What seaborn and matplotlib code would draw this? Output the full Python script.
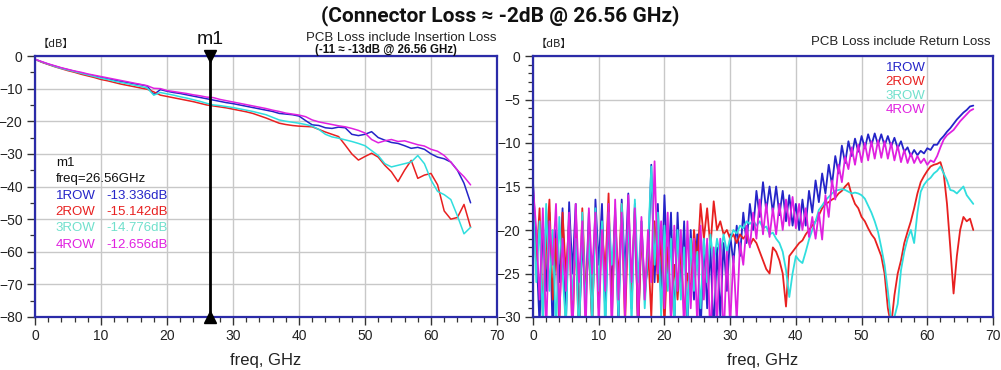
import numpy as np
import pandas as pd
import matplotlib
matplotlib.use("Agg")
import matplotlib.pyplot as plt
import seaborn as sns
from matplotlib.ticker import MultipleLocator

# ---------------- data ----------------
series_names = ["1ROW", "2ROW", "3ROW", "4ROW"]
series_colors = ["#2424c8", "#e82020", "#30dede", "#e020e0"]
label_colors = ["#2424c8", "#e82020", "#70e0cc", "#e020e0"]

# Insertion loss (left)
il_freq = list(range(0, 67))
il_1row = [-1.0, -1.8, -2.5, -3.1, -3.7, -4.2, -4.7, -5.2, -5.7, -6.1, -6.6, -7.0, -7.4, -7.8, -8.1, -8.5,
           -8.8, -9.2, -11.8, -10.3, -10.8, -11.2, -11.5, -11.9, -12.3, -12.7, -13.1, -13.5, -13.9, -14.3,
           -14.6, -15.0, -15.4, -15.8, -16.2, -16.6, -17.0, -17.6, -17.8, -18.0, -18.4, -19.8, -21.1, -21.3,
           -22.0, -22.2, -21.8, -22.0, -24.0, -24.4, -24.0, -23.2, -25.0, -25.8, -26.5, -26.8, -27.5, -28.3,
           -28.0, -28.6, -30.0, -31.0, -31.5, -32.5, -35.0, -39.0, -45.0]
il_2row = [-1.0, -1.9, -2.6, -3.3, -3.9, -4.5, -5.0, -5.6, -6.1, -6.6, -7.2, -7.6, -8.1, -8.6, -9.0, -9.4,
           -9.8, -10.2, -11.0, -12.0, -12.4, -12.8, -13.2, -13.6, -14.0, -14.5, -15.0, -15.3, -15.6, -15.9,
           -16.3, -16.7, -17.1, -17.6, -18.3, -19.0, -19.8, -20.6, -21.0, -21.3, -21.5, -21.6, -21.7, -22.5,
           -23.3, -24.0, -24.7, -27.3, -30.0, -31.9, -30.8, -29.8, -31.0, -33.5, -35.5, -38.5, -35.0, -32.0,
           -37.5, -36.5, -36.0, -39.5, -47.5, -50.0, -49.5, -45.5, -52.5]
il_3row = [-1.0, -1.8, -2.5, -3.2, -3.8, -4.3, -4.8, -5.3, -5.8, -6.3, -6.8, -7.2, -7.7, -8.1, -8.5, -8.9,
           -9.3, -9.8, -12.0, -11.2, -11.6, -12.0, -12.5, -12.9, -13.4, -13.9, -14.5, -15.0, -15.2, -15.5,
           -15.8, -16.2, -16.6, -17.0, -17.5, -18.0, -18.8, -19.6, -20.0, -20.3, -20.6, -21.0, -21.5, -22.5,
           -24.0, -24.8, -25.2, -25.7, -26.2, -26.8, -27.5, -29.0, -30.5, -33.0, -34.0, -33.5, -33.0, -32.5,
           -30.5, -33.0, -38.0, -41.5, -42.5, -44.0, -49.0, -54.5, -52.5]
il_4row = [-1.0, -1.7, -2.4, -3.0, -3.6, -4.1, -4.6, -5.0, -5.5, -5.9, -6.3, -6.7, -7.1, -7.5, -7.9, -8.3,
           -8.7, -9.1, -9.9, -10.0, -10.6, -10.9, -11.2, -11.5, -11.9, -12.2, -12.6, -12.75, -13.3, -13.7,
           -14.1, -14.5, -14.9, -15.3, -15.7, -16.1, -16.6, -17.0, -17.5, -17.8, -18.1, -18.6, -19.6, -20.2,
           -20.6, -21.0, -21.4, -21.7, -22.2, -22.8, -23.6, -25.6, -26.6, -26.0, -25.6, -26.2, -26.0, -26.6,
           -27.2, -27.6, -28.6, -29.2, -30.5, -32.5, -35.0, -37.0, -39.5]

marker_freq = 26.56
marker_vals = ["-13.336dB", "-15.142dB", "-14.776dB", "-12.656dB"]

# Return loss (right), 0.5 GHz steps
rl_freq = [i * 0.5 for i in range(135)]
rl_1row = [-14.5, -22, -31, -19, -27, -18, -32, -20, -26, -17.5, -31, -16.8, -25, -17, -32, -21, -28, -18,
           -31, -16.5, -24, -17, -30, -19, -27, -17.5, -31, -16.5, -25, -15.8, -29, -17, -32, -19, -27, -24,
           -12.5, -26, -17, -28, -16, -25, -18, -31, -18, -27, -19, -31, -20, -28, -20.5, -32, -21, -29, -22,
           -32, -22, -30, -21.5, -27, -20.5,
           -23.8, -19.5, -23, -18, -21.5, -17, -20, -15.5, -18.5, -14.5, -17.8, -15, -18, -15, -18.3, -15.5,
           -19, -16, -19.5, -17, -20, -16.5, -19.5, -15.5, -18, -14.3, -16.8, -13.5, -15.8, -12.5, -14.8,
           -11.5, -13.5, -10.3, -12.3, -9.8, -11.5, -9.5, -11, -9.2, -10.6, -9, -10.3, -8.9, -10.2, -9, -10.3,
           -9.2, -10.4, -9.4, -10.6, -9.8, -11, -10.5, -11.5, -10.8, -11.4, -10.9, -11.2, -10.6, -10.8, -10.2,
           -10.2, -9.6, -9.2, -8.7, -8.3, -7.8, -7.3, -6.9, -6.5, -6.2, -5.8, -5.7]
rl_2row = [-18, -24, -17.5, -30, -22, -16.5, -28, -21, -31, -18, -25, -19, -32, -20, -33, -17.5, -27, -22,
           -31, -18, -29, -20, -25, -15.8, -30, -18.5, -26, -17, -31, -19, -27, -17.5, -32, -20, -28, -22,
           -30, -19, -26, -21, -31, -22, -30, -24, -28, -22, -30, -25, -27, -20, -24, -17, -21, -17.5, -22,
           -16.7, -20, -19, -20.5, -20, -21,
           -20.5, -21.5, -20.5, -21, -20.5, -21.8, -21, -21.5, -22.5, -23.5, -24.5, -25, -22, -22.5, -23.5,
           -25, -28.8, -23, -22.5, -22, -21.5, -21.2, -20.5, -20, -19.5, -19, -18.3, -17.5, -17, -16.8,
           -16.5, -16.3, -15.8, -15.5, -15, -14.6, -16, -17, -17.5, -18.5, -19, -19.8, -20.5, -21, -22, -23,
           -25, -29, -31, -27.5, -25, -23.5, -21.5, -20.2, -19, -17.5, -15.8, -14.5, -13.8, -13.2, -12.7,
           -12.5, -12.4, -12.2, -13.5, -17, -22, -27.3, -23, -20, -18.5, -19, -18.7, -20]
rl_3row = [-16, -26, -19, -31, -17, -27, -20, -32, -18.5, -25, -31, -19, -28, -21, -33, -18, -29, -20.5,
           -31, -17.5, -27, -19, -32, -18, -24, -20, -30, -17, -27, -18.5, -31, -16.5, -26, -19, -29, -22,
           -12.7, -24, -18, -30, -19.5, -27, -21, -31, -20, -28, -22, -30, -21, -27, -22.5, -29, -21, -26,
           -20.5, -24, -21, -23, -20.5, -22.5, -21,
           -20, -20.4, -19.5, -19.8, -19, -19.3, -18.9, -19.5, -19, -19.8, -19.6, -20.5, -20.3, -21, -21.5,
           -22.5, -24.6, -27.7, -25, -23, -23.5, -23.8, -22.5, -21.1, -20, -19, -17.7, -17.2, -16.6, -16.2,
           -15.8, -15.5, -15.4, -15.3, -15.4, -15.6, -15.8, -15.7, -15.8, -16, -16.4, -17.2, -18, -19, -20.2,
           -22, -24, -27, -30.5, -30, -28.5, -24.6, -22.5, -21, -20, -21.5, -18, -15.6, -14.8, -14.3, -14,
           -13.5, -13.2, -12.7, -13.5, -14.3, -15.4, -15.5, -15.8, -15.4, -15, -16, -16.5, -17]
rl_4row = [-15, -20, -28, -17.5, -32, -19, -24, -17, -30, -21, -27, -18, -33, -17, -26, -19, -32, -17.5,
           -25, -18, -31, -20, -27, -17, -32, -16.5, -28, -18, -30, -16, -26, -17.5, -31, -18.5, -28, -20,
           -26, -12.1, -25, -19, -29, -18, -31, -19.5, -27, -20, -32, -19, -29, -21, -31, -19.5, -28, -21,
           -33, -22, -31, -21, -33, -22.5, -31,
           -23, -30.5, -21.5, -24, -19.5, -22, -18, -21, -16.5, -20.5, -17, -20.8, -17.5, -20.5, -17, -20,
           -16.5, -19.5, -16.2, -19.8, -17, -20, -17.5, -20.8, -18.5, -21, -18, -21.1, -16, -18.5, -14.3,
           -16.5, -12.5, -14.5, -11.6, -13, -10.5, -12.5, -10.2, -12.2, -10, -12, -9.8, -11.8, -9.7, -11.7,
           -9.8, -11.8, -10, -12, -10.3, -12.2, -10.8, -12.3, -11.2, -12.3, -11.5, -12.3, -11.8, -12.5, -12,
           -12.2, -11.5, -10.5, -9.6, -9.1, -8.8, -8.5, -8, -7.5, -7.1, -6.7, -6.3, -6.1]

il_df = pd.DataFrame({"freq": il_freq * 4,
                      "dB": il_1row + il_2row + il_3row + il_4row,
                      "row": sum([[n] * len(il_freq) for n in series_names], [])})
rl_df = pd.DataFrame({"freq": rl_freq * 4,
                      "dB": rl_1row + rl_2row + rl_3row + rl_4row,
                      "row": sum([[n] * len(rl_freq) for n in series_names], [])})

# ---------------- plot ----------------
sns.set_style("white")
plt.rcParams["font.family"] = ["Liberation Sans", "DejaVu Sans"]

fig = plt.figure(figsize=(10.01, 3.70), dpi=100)
axL = fig.add_axes([35 / 1001, 1 - 317 / 370, 462 / 1001, 261 / 370])
axR = fig.add_axes([533 / 1001, 1 - 317 / 370, 460 / 1001, 261 / 370])

pal = dict(zip(series_names, series_colors))
sns.lineplot(data=il_df, x="freq", y="dB", hue="row", palette=pal, ax=axL, legend=False, lw=1.1,
             sort=False, estimator=None)
sns.lineplot(data=rl_df, x="freq", y="dB", hue="row", palette=pal, ax=axR, legend=False, lw=1.3,
             sort=False, estimator=None)

spine_col = "#2b2ba8"
for ax, (ymin, ymaj, ymnr) in [(axL, (-80, 10, 5)), (axR, (-30, 5, 1))]:
    ax.set_xlim(0, 70)
    ax.set_ylim(ymin, 0)
    ax.xaxis.set_major_locator(MultipleLocator(10))
    ax.xaxis.set_minor_locator(MultipleLocator(2))
    ax.yaxis.set_major_locator(MultipleLocator(ymaj))
    ax.yaxis.set_minor_locator(MultipleLocator(ymnr))
    ax.grid(True, which="major", color="#c8c8c8", lw=1.0)
    ax.set_axisbelow(True)
    for s in ax.spines.values():
        s.set_color(spine_col)
        s.set_linewidth(1.6)
    ax.tick_params(which="both", direction="out", color="#333333", labelsize=10, labelcolor="#222222",
                   bottom=True, left=True)
    ax.tick_params(which="major", length=6, width=1.0, pad=3)
    ax.tick_params(which="minor", length=3.5, width=0.9)
    ax.set_xlabel("freq, GHz", fontsize=12, color="#222222", labelpad=7)
    ax.set_ylabel("")
    ax.text(0.005, 1.025, "【dB】", transform=ax.transAxes, fontsize=8, ha="left", va="bottom",
            family=["Noto Sans CJK SC", "DejaVu Sans"], color="#222222")

# marker m1
axL.axvline(marker_freq, color="black", lw=2.0, zorder=5)
axL.plot([marker_freq], [0], marker="v", color="black", ms=9, clip_on=False, zorder=6)
axL.plot([marker_freq], [-80], marker="^", color="black", ms=9, clip_on=False, zorder=6)
axL.text(marker_freq, 1.03, "m1", transform=axL.get_xaxis_transform(), ha="center", va="bottom",
         fontsize=14, color="#111111")

axL.text(1.0, 1.045, "PCB Loss include Insertion Loss", transform=axL.transAxes, ha="right",
         va="bottom", fontsize=9.5, color="#222222")
axL.text(0.76, 1.0, "(-11 ≈ -13dB @ 26.56 GHz)", transform=axL.transAxes, ha="center",
         va="bottom", fontsize=8.3, fontweight="bold", color="#111111")

# marker readout box
y0 = 0.59
dy = 0.0625
axL.text(0.045, y0, "m1", transform=axL.transAxes, fontsize=9.5, color="#111111", va="center")
axL.text(0.045, y0 - dy, f"freq={marker_freq}GHz", transform=axL.transAxes, fontsize=9.5,
         color="#111111", va="center")
for i, (n, v, c) in enumerate(zip(series_names, marker_vals, label_colors)):
    yy = y0 - dy * (i + 2)
    axL.text(0.045, yy, n, transform=axL.transAxes, fontsize=9.5, color=c, va="center")
    axL.text(0.155, yy, v, transform=axL.transAxes, fontsize=9.5, color=c, va="center")

axR.text(0.995, 1.03, "PCB Loss include Return Loss", transform=axR.transAxes, ha="right",
         va="bottom", fontsize=9.5, color="#222222")
for i, (n, c) in enumerate(zip(series_names, label_colors)):
    axR.text(0.853, 0.955 - 0.054 * i, n, transform=axR.transAxes, ha="right", va="center",
             fontsize=9.5, color=c)

fig.text(0.5, 0.957, "(Connector Loss ≈ -2dB @ 26.56 GHz)", ha="center", va="center",
         fontsize=15, fontweight="bold", family=["Roboto", "DejaVu Sans"], color="#111111")

fig.savefig("out.png", dpi=100)
